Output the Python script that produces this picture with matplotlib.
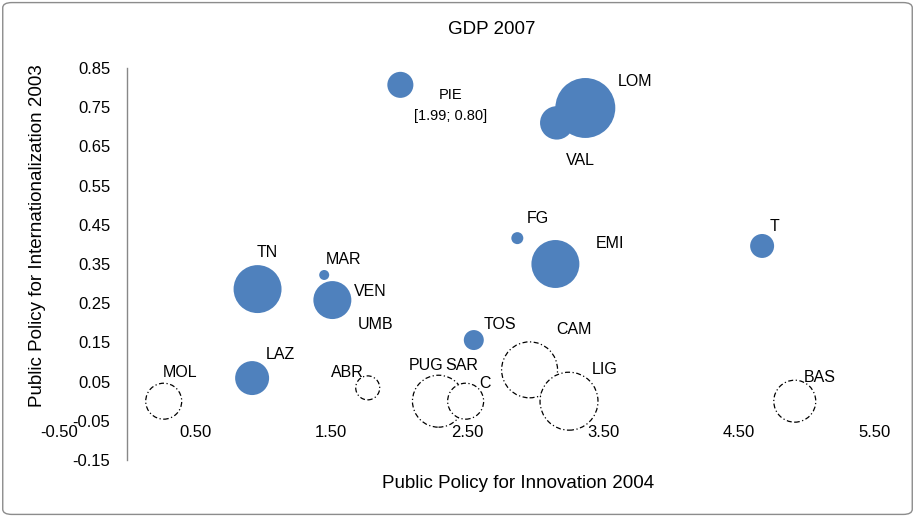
import matplotlib
matplotlib.use("Agg")
import matplotlib.pyplot as plt
from matplotlib.patches import FancyBboxPatch

plt.rcParams['font.family'] = ['Liberation Sans', 'DejaVu Sans']

# ---- data ----
filled_names = ["UMB", "PIE", "LOM", "VAL", "FG", "EMI", "T", "TN", "MAR", "VEN", "TOS", "LAZ"]
filled_x = [1.55, 2.01, 3.37, 3.16, 2.87, 3.15, 4.67, 0.96, 1.45, 1.51, 2.55, 0.92]
filled_y = [0.245, 0.807, 0.748, 0.710, 0.416, 0.350, 0.396, 0.286, 0.322, 0.258, 0.156, 0.059]
filled_gdp = [25, 170, 900, 280, 36, 576, 144, 576, 25, 361, 100, 289]

hollow_names = ["MOL", "ABR", "PUG", "SAR", "CAM", "LIG", "BAS"]
hollow_x = [0.27, 1.77, 2.29, 2.49, 2.96, 3.25, 4.91]
hollow_y = [0.000, 0.034, 0.000, 0.000, 0.080, 0.000, 0.000]
hollow_gdp = [324, 144, 676, 324, 784, 841, 441]

pie_coords = "[1.99; 0.80]"
extra_label = "C"
extra_label_xy = (2.63, 0.045)

x_ticks = [-0.5, 0.5, 1.5, 2.5, 3.5, 4.5, 5.5]
y_ticks = [-0.15, -0.05, 0.05, 0.15, 0.25, 0.35, 0.45, 0.55, 0.65, 0.75, 0.85]

title = "GDP 2007"
x_label = "Public Policy for Innovation 2004"
y_label = "Public Policy for Internationalization 2003"

# label offsets (points)
filled_off = {"UMB": (27, -14), "PIE": (36, -15), "LOM": (36, 19), "VAL": (17, -27), "FG": (15, 14),
              "EMI": (39, 15), "T": (9, 14), "TN": (7, 26), "MAR": (14, 11), "VEN": (27, 6),
              "TOS": (19, 11), "LAZ": (20, 17)}
hollow_off = {"MOL": (12, 21), "ABR": (-15, 11), "PUG": (-9, 26), "SAR": (-3, 26),
              "CAM": (32, 29), "LIG": (26, 23), "BAS": (18, 17)}

BLUE = "#4F81BD"
SCALE = 2.07  # px^2 -> pt^2 (dpi 100)

fig = plt.figure(figsize=(9.15, 5.17), dpi=100)
ax = fig.add_axes([59/915, 1-460/517, (875-59)/915, (460-68)/517])
ax.set_xlim(-0.5, 5.5)
ax.set_ylim(-0.15, 0.85)

ax.scatter(hollow_x, hollow_y, s=[g*SCALE for g in hollow_gdp], facecolors="white",
           edgecolors="black", linewidths=0.9, linestyles=(0, (4, 2, 1, 2)), zorder=2)
ax.scatter(filled_x, filled_y, s=[g*SCALE for g in filled_gdp], color=BLUE,
           edgecolors="none", zorder=3)

fs = 11.5
for n, x, y in zip(filled_names, filled_x, filled_y):
    dx, dy = filled_off[n]
    if n == "PIE":
        ax.annotate(n + "\n" + pie_coords, (x, y), xytext=(dx, dy), textcoords="offset points",
                    ha="center", va="center", fontsize=10.5, zorder=5, linespacing=1.6)
    else:
        ax.annotate(n, (x, y), xytext=(dx, dy), textcoords="offset points",
                    ha="center", va="center", fontsize=fs, zorder=5)
for n, x, y in zip(hollow_names, hollow_x, hollow_y):
    dx, dy = hollow_off[n]
    ax.annotate(n, (x, y), xytext=(dx, dy), textcoords="offset points",
                ha="center", va="center", fontsize=fs, zorder=5)
ax.text(extra_label_xy[0], extra_label_xy[1], extra_label, fontsize=fs, ha="center", va="center")

for s in ["top", "right", "bottom"]:
    ax.spines[s].set_visible(False)
ax.spines["left"].set_position(("data", 0))
ax.spines["left"].set_color("#888888")
ax.spines["left"].set_linewidth(1.0)
ax.spines["bottom"].set_position(("data", -0.05))

ax.set_xticks(x_ticks)
ax.set_xticklabels([f"{v:.2f}" for v in x_ticks])
ax.set_yticks(y_ticks)
ax.set_yticklabels([f"{v:.2f}" for v in y_ticks])
ax.tick_params(axis="both", length=0, labelsize=12)
ax.tick_params(axis="x", pad=3)
ax.tick_params(axis="y", pad=12)

fig.text(492/915, 1-30/517, title, ha="center", va="center", fontsize=13.5)
fig.text(518/915, 1-484/517, x_label, ha="center", va="center", fontsize=13.5)
fig.text(38/915, 1-236/517, y_label, ha="center", va="center", fontsize=13.5, rotation=90)

border = FancyBboxPatch((0.003, 0.005), 0.994, 0.99, boxstyle="round,pad=0,rounding_size=0.01",
                        transform=fig.transFigure, fill=False, edgecolor="#8c8c8c", linewidth=1)
fig.patches.append(border)

fig.savefig("out.png", dpi=100)
